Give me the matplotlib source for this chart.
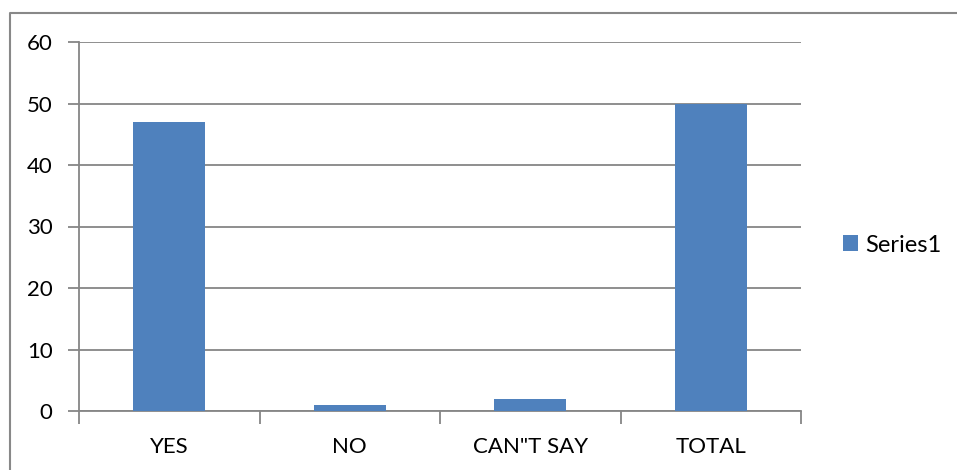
import matplotlib
matplotlib.use("Agg")
import matplotlib.pyplot as plt
from matplotlib.lines import Line2D
from matplotlib.patches import Patch
import numpy as np

categories = ["YES", "NO", "CAN\"T SAY", "TOTAL"]
values = [47, 1, 2, 50]
series_name = "Series1"
y_ticks = [0, 10, 20, 30, 40, 50, 60]

bar_color = "#4F81BD"
grid_color = "#868686"
text_color = "#000000"

plt.rcParams["font.family"] = ["Lato", "DejaVu Sans"]
W, H = 957, 470
fig = plt.figure(figsize=(W / 100, H / 100), dpi=100)
fig.patch.set_facecolor("white")

ax = fig.add_axes([79 / W, 1 - 411 / H, (801 - 79) / W, (411 - 42) / H])
x = np.arange(len(categories))
ax.bar(x, values, width=0.4, color=bar_color, zorder=3)

ax.set_xlim(-0.5, len(categories) - 0.5)
ax.set_ylim(0, 60)
ax.set_yticks(y_ticks)
ax.set_yticklabels([str(t) for t in y_ticks])
ax.yaxis.grid(True, color=grid_color, linewidth=1.3, zorder=0)
ax.tick_params(axis="y", length=8, width=1.3, color=grid_color, pad=11,
               labelsize=16, labelcolor=text_color)

# category boundaries carry the tick marks, centres carry the labels
ax.set_xticks(np.arange(len(categories) + 1) - 0.5)
ax.set_xticklabels([])
ax.set_xticks(x, minor=True)
ax.set_xticklabels(categories, minor=True)
ax.tick_params(axis="x", which="major", length=9, width=1.3, color=grid_color)
ax.tick_params(axis="x", which="minor", length=0, pad=19, labelsize=16,
               labelcolor=text_color)

for side in ("top", "right"):
    ax.spines[side].set_visible(False)
for side in ("left", "bottom"):
    ax.spines[side].set_color(grid_color)
    ax.spines[side].set_linewidth(1.3)

handle = Patch(facecolor=bar_color, edgecolor="none")
fig.legend([handle], [series_name], loc="center left",
           bbox_to_anchor=(843 / W, 1 - 245 / H), frameon=False,
           fontsize=17, handlelength=0.65, handleheight=0.65,
           handletextpad=0.3, borderaxespad=0, borderpad=0)

# chart-area frame along the top and left edges
fig.add_artist(Line2D([9.5 / W, 9.5 / W, 1.0], [0.0, 1 - 12.5 / H, 1 - 12.5 / H],
                      transform=fig.transFigure, color="#888888", linewidth=1.5))

fig.savefig("out.png", dpi=100, facecolor="white")
